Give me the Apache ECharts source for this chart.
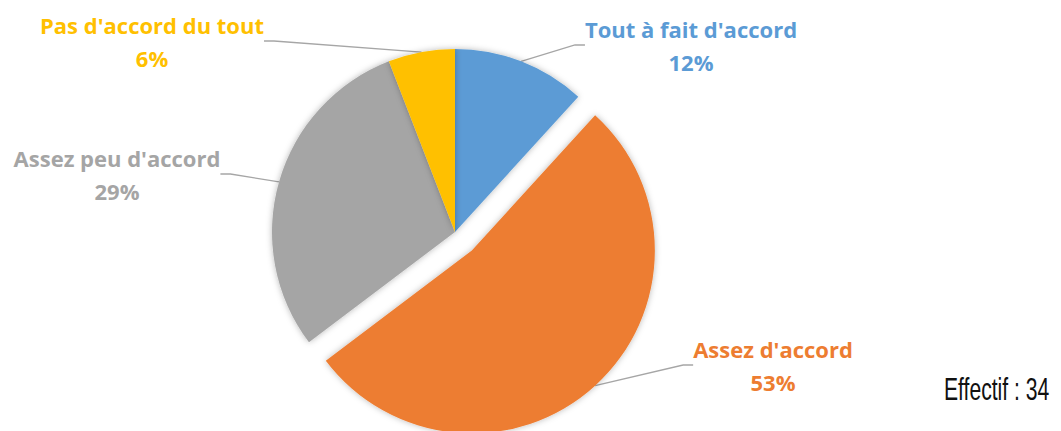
<!DOCTYPE html>
<html>
<head>
<meta charset="utf-8">
<script src="https://cdn.jsdelivr.net/npm/echarts@6/dist/echarts.min.js"></script>
<style>
  html, body { margin: 0; padding: 0; background: #fff; }
  #chart { width: 1061px; height: 431px; }
</style>
</head>
<body>
<div id="chart"></div>
<script>
// Survey answers (counts out of 34 respondents)
const categories = ["Tout à fait d'accord", "Assez d'accord", "Assez peu d'accord", "Pas d'accord du tout"];
const counts = [4, 18, 10, 2];
const sliceColors = ['#5b9bd5', '#ed7d31', '#a5a5a5', '#ffc000'];
const footnote = 'Effectif : 34';

// Slice pulled out of the pie
const explodedIndex = 1;

// Where each label block is centred
const labelAnchors = [[691, 45], [773, 365], [117, 174], [152, 41]];

const pieCenter = [455, 232];
const pieRadius = 183;
const explodeDistance = 25;

// Direction of the exploded slice's bisector (clockwise from 12 o'clock)
const total = counts.reduce((a, b) => a + b, 0);
const before = counts.slice(0, explodedIndex).reduce((a, b) => a + b, 0);
const midAngle = (before + counts[explodedIndex] / 2) / total * 2 * Math.PI;
const explodedCenter = [
  pieCenter[0] + Math.sin(midAngle) * explodeDistance,
  pieCenter[1] - Math.cos(midAngle) * explodeDistance
];

const chart = echarts.init(document.getElementById('chart'), null, { renderer: 'svg' });

function pieSeries(center, visibleTest) {
  return {
    type: 'pie',
    center: center,
    radius: pieRadius,
    startAngle: 90,
    clockwise: true,
    percentPrecision: 0,
    silent: true,
    data: categories.map((name, i) => {
      const visible = visibleTest(i);
      return {
        name,
        value: counts[i],
        itemStyle: {
          color: sliceColors[i],
          opacity: visible ? 1 : 0,
          shadowBlur: visible ? 6 : 0,
          shadowColor: 'rgba(0,0,0,0.28)'
        },
        label: { show: visible, color: sliceColors[i] },
        labelLine: { show: visible }
      };
    }),
    emphasis: { disabled: true },
    label: {
      position: 'outside',
      formatter: '{b}\n{d}%',
      fontFamily: 'Open Sans',
      fontWeight: 'bold',
      fontSize: 22,
      lineHeight: 33,
      align: 'center'
    },
    labelLine: {
      length: 10,
      length2: 10,
      lineStyle: { color: '#a6a6a6', width: 1.3 }
    },
    labelLayout: function (params) {
      const p = labelAnchors[params.dataIndex];
      return { x: p[0], y: p[1], align: 'center', verticalAlign: 'middle' };
    }
  };
}

chart.setOption({
  animation: false,
  backgroundColor: '#ffffff',
  series: [
    pieSeries(pieCenter, i => i !== explodedIndex),
    pieSeries(explodedCenter, i => i === explodedIndex)
  ],
  graphic: [{
    type: 'text',
    x: 944,
    y: 389,
    scaleX: 0.66,
    style: {
      text: footnote,
      fontFamily: 'Liberation Sans',
      fontSize: 32,
      fill: '#111',
      textVerticalAlign: 'middle',
      textAlign: 'left'
    }
  }]
});
</script>
</body>
</html>
